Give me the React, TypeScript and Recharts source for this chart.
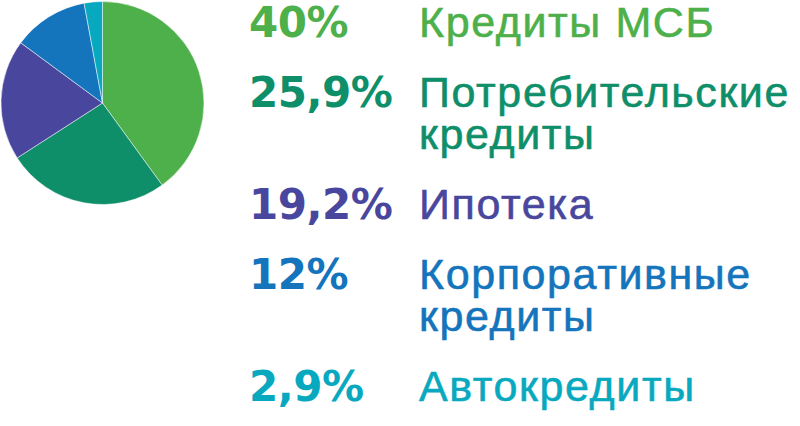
import React from 'react';
import { PieChart, Pie, Cell, Legend } from 'recharts';

const categories = ['Кредиты МСБ', 'Потребительские кредиты', 'Ипотека', 'Корпоративные кредиты', 'Автокредиты'];
const shares = [40, 25.9, 19.2, 12, 2.9];
const shareLabels = ['40%', '25,9%', '19,2%', '12%', '2,9%'];
const labelLines = [['Кредиты МСБ'], ['Потребительские', 'кредиты'], ['Ипотека'], ['Корпоративные', 'кредиты'], ['Автокредиты']];
const colors = ['#4DB04A', '#0E8F6A', '#49479D', '#1474BC', '#08A9BF'];

const data = categories.map((name, i) => ({ name, value: shares[i] }));

const LegendContent = () => {
  let y = 37;
  const rows: React.ReactNode[] = [];
  labelLines.forEach((lines, i) => {
    const baseY = y;
    rows.push(
      <g key={i} fill={colors[i]}>
        <text
          x={249}
          y={baseY}
          fontFamily="'DejaVu Sans', sans-serif"
          fontWeight={700}
          fontSize={42}
          letterSpacing={-0.5}
        >
          {shareLabels[i]}
        </text>
        {lines.map((ln, j) => (
          <text
            key={j}
            x={419}
            y={baseY + j * 42}
            fontFamily="'Liberation Sans', Arial, sans-serif"
            fontSize={43}
            letterSpacing={1.6}
            stroke={colors[i]}
            strokeWidth={0.6}
          >
            {ln}
          </text>
        ))}
      </g>
    );
    y = baseY + (lines.length - 1) * 42 + 70;
  });
  return (
    <svg width={800} height={426} style={{ display: 'block' }}>
      {rows}
    </svg>
  );
};

export default function App() {
  return (
    <div style={{ position: 'absolute', left: 0, top: 0, width: 800, height: 426, background: '#fff' }}>
      <PieChart width={800} height={426} margin={{ top: 0, right: 0, bottom: 0, left: 0 }}>
        <Pie
          data={data}
          dataKey="value"
          nameKey="name"
          cx={102.5}
          cy={103}
          outerRadius={101.5}
          startAngle={90}
          endAngle={-270}
          stroke="#ffffff"
          strokeWidth={0.5}
          isAnimationActive={false}
        >
          {data.map((d, i) => (
            <Cell key={d.name} fill={colors[i]} />
          ))}
        </Pie>
        <Legend
          layout="vertical"
          align="right"
          verticalAlign="top"
          content={<LegendContent />}
          wrapperStyle={{ position: 'absolute', left: 0, top: 0, width: 800, height: 426, pointerEvents: 'none' }}
        />
      </PieChart>
    </div>
  );
}
